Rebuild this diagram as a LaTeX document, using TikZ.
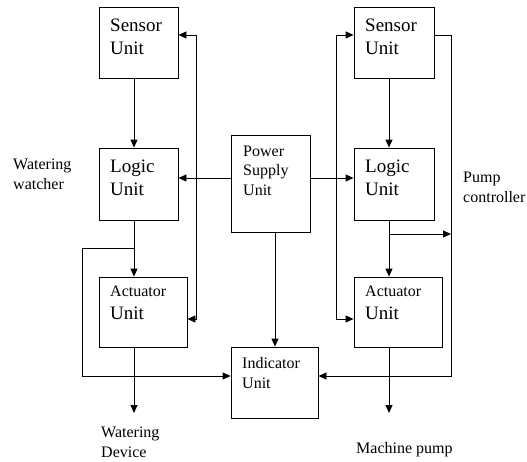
\documentclass[tikz,border=0pt]{standalone}
\usepackage{fontspec}
\setmainfont{Liberation Serif}
\usetikzlibrary{arrows.meta}

\tikzset{
  unitbox/.style={draw, line width=0.9pt, inner sep=0pt},
  boxtext/.style={anchor=base west, align=left, inner sep=0pt, font=\fontsize{19}{22.5}\selectfont},
  sidetext/.style={anchor=base west, align=left, inner sep=0pt, font=\fontsize{16}{19.5}\selectfont},
  wire/.style={line width=0.9pt}
}

\begin{document}
\begin{tikzpicture}[x=1pt, y=-1pt, >={Triangle[length=8pt,width=7pt]}]
    \useasboundingbox (0,0) rectangle (527,461);

    % the boxes
    \node[unitbox, minimum width=79, minimum height=71] (sensorL) at (138.5,42.5) {};
    \node[unitbox, minimum width=79, minimum height=72] (logicL) at (138.5,184) {};
    \node[unitbox, minimum width=88, minimum height=70] (actL) at (143,312) {};
    \node[unitbox, minimum width=79, minimum height=97] (power) at (270.5,183.5) {};
    \node[unitbox, minimum width=87, minimum height=71] (indic) at (274.5,382.5) {};
    \node[unitbox, minimum width=80, minimum height=71] (sensorR) at (394,42.5) {};
    \node[unitbox, minimum width=80, minimum height=72] (logicR) at (394,184) {};
    \node[unitbox, minimum width=88, minimum height=70] (actR) at (398,312) {};

    % texts in the boxes (placed at the baseline of their last line)
    \node[boxtext] (sensorL-t) at (110,54) {Sensor\\Unit};
    \node[boxtext] (logicL-t) at (110,195) {Logic\\Unit};
    \node[boxtext] (actL-t) at (110,319) {{\fontsize{16}{19.5}\selectfont Actuator}\\Unit};
    \node[sidetext] (power-t) at (243,195) {Power\\Supply\\Unit};
    \node[sidetext] (indic-t) at (242,388) {Indicator\\Unit};
    \node[boxtext] (sensorR-t) at (365,54) {Sensor\\Unit};
    \node[boxtext] (logicR-t) at (365,195) {Logic\\Unit};
    \node[boxtext] (actR-t) at (365,319) {{\fontsize{16}{19.5}\selectfont Actuator}\\Unit};

    % texts beside
    \node[sidetext] (watcher) at (13,189) {Watering\\watcher};
    \node[sidetext] (pumpctl) at (463,202) {Pump\\controller};
    \node[sidetext] (device) at (101,457) {Watering\\Device};
    \node[sidetext] (machine) at (356,453) {Machine pump};

    % columns and rows of the wiring
    \coordinate (colL) at (134,0);
    \coordinate (colP) at (275,0);
    \coordinate (colR) at (389,0);
    \coordinate (busL) at (196,0);
    \coordinate (busR) at (336,0);
    \coordinate (loopL) at (82,0);
    \coordinate (loopR) at (451,0);
    \coordinate (rowS) at (0,35);
    \coordinate (rowP) at (0,178);
    \coordinate (rowJR) at (0,234);
    \coordinate (rowJL) at (0,248);
    \coordinate (rowA) at (0,319);
    \coordinate (rowB) at (0,376);
    \coordinate (outL) at (134,413);
    \coordinate (outR) at (389,413);

    % left unit
    \draw[wire, ->] (sensorL.south -| colL) -- (logicL.north -| colL);
    \draw[wire, ->] (logicL.south -| colL) -- (actL.north -| colL);
    \draw[wire, ->] (actL.south -| colL) -- (outL);
    \draw[wire, ->] (colL |- rowJL) -- (loopL |- rowJL) -- (loopL |- rowB) -- (indic.west |- rowB);

    % power supply
    \draw[wire, ->] (power.west |- rowP) -- (logicL.east |- rowP);
    \draw[wire, ->] (power.east |- rowP) -- (logicR.west |- rowP);
    \draw[wire, ->] (power.south -| colP) -- (indic.north -| colP);
    \draw[wire, ->] (busL |- rowP) -- (busL |- rowS) -- (sensorL.east |- rowS);
    \draw[wire, ->] (busL |- rowP) -- (busL |- rowA) -- (actL.east |- rowA);
    \draw[wire, ->] (busR |- rowP) -- (busR |- rowS) -- (sensorR.west |- rowS);
    \draw[wire, ->] (busR |- rowP) -- (busR |- rowA) -- (actR.west |- rowA);

    % right unit
    \draw[wire, ->] (sensorR.south -| colR) -- (logicR.north -| colR);
    \draw[wire, ->] (logicR.south -| colR) -- (actR.north -| colR);
    \draw[wire, ->] (actR.south -| colR) -- (outR);
    \draw[wire, ->] (colR |- rowJR) -- (loopR |- rowJR);
    \draw[wire, ->] (sensorR.east |- rowS) -- (loopR |- rowS) -- (loopR |- rowB) -- (indic.east |- rowB);
\end{tikzpicture}
\end{document}
